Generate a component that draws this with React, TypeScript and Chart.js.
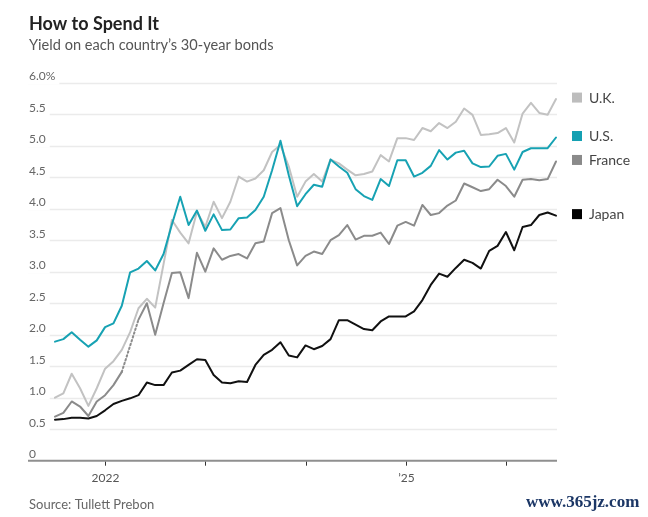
import { useEffect, useRef } from "react";
import { Chart, registerables } from "chart.js";

Chart.register(...registerables);

const months = [
  "Jul 2021", "Aug 2021", "Sep 2021", "Oct 2021", "Nov 2021", "Dec 2021",
  "Jan 2022", "Feb 2022", "Mar 2022", "Apr 2022", "May 2022", "Jun 2022",
  "Jul 2022", "Aug 2022", "Sep 2022", "Oct 2022", "Nov 2022", "Dec 2022",
  "Jan 2023", "Feb 2023", "Mar 2023", "Apr 2023", "May 2023", "Jun 2023",
  "Jul 2023", "Aug 2023", "Sep 2023", "Oct 2023", "Nov 2023", "Dec 2023",
  "Jan 2024", "Feb 2024", "Mar 2024", "Apr 2024", "May 2024", "Jun 2024",
  "Jul 2024", "Aug 2024", "Sep 2024", "Oct 2024", "Nov 2024", "Dec 2024",
  "Jan 2025", "Feb 2025", "Mar 2025", "Apr 2025", "May 2025", "Jun 2025",
  "Jul 2025", "Aug 2025", "Sep 2025", "Oct 2025", "Nov 2025", "Dec 2025",
  "Jan 2026", "Feb 2026", "Mar 2026", "Apr 2026", "May 2026", "Jun 2026",
  "Jul 2026",
];

const ukValues = [
  1.0, 1.07, 1.38, 1.15, 0.87, 1.15, 1.46, 1.58, 1.76, 2.04, 2.42, 2.57,
  2.43, 3.12, 3.82, 3.62, 3.45, 3.95, 3.71, 4.11, 3.85, 4.11, 4.51, 4.43,
  4.48, 4.61, 4.9, 5.01, 4.67, 4.19, 4.43, 4.55, 4.43, 4.78, 4.72, 4.62,
  4.53, 4.55, 4.59, 4.85, 4.75, 5.12, 5.12, 5.09, 5.28, 5.23, 5.36, 5.28,
  5.38, 5.59, 5.49, 5.17, 5.18, 5.2, 5.28, 5.05, 5.51, 5.68, 5.52, 5.49,
  5.74,
];

const usValues = [
  1.89, 1.93, 2.04, 1.92, 1.81, 1.91, 2.12, 2.18, 2.46, 2.99, 3.05, 3.17,
  3.02, 3.28, 3.75, 4.19, 3.74, 3.97, 3.65, 3.91, 3.66, 3.67, 3.85, 3.86,
  3.98, 4.19, 4.61, 5.08, 4.53, 4.04, 4.23, 4.38, 4.35, 4.78, 4.67, 4.57,
  4.31, 4.2, 4.14, 4.47, 4.36, 4.77, 4.77, 4.51, 4.57, 4.68, 4.93, 4.78,
  4.89, 4.92, 4.72, 4.66, 4.67, 4.84, 4.87, 4.62, 4.9, 4.96, 4.96, 4.96,
  5.13,
];

const franceValues: (number | null)[] = [
  0.7, 0.76, 0.94, 0.86, 0.71, 0.94, 1.04, 1.2, 1.41, null, 2.24, 2.5,
  2.0, 2.5, 2.98, 2.99, 2.58, 3.3, 3.0, 3.37, 3.19, 3.25, 3.28, 3.21,
  3.45, 3.48, 3.93, 4.01, 3.5, 3.1, 3.25, 3.32, 3.28, 3.5, 3.58, 3.74,
  3.51, 3.57, 3.57, 3.62, 3.44, 3.73, 3.79, 3.73, 4.06, 3.9, 3.93, 4.05,
  4.13, 4.4, 4.34, 4.28, 4.31, 4.46, 4.36, 4.19, 4.46, 4.47, 4.45, 4.47,
  4.75,
];

const japanValues = [
  0.65, 0.66, 0.68, 0.68, 0.67, 0.71, 0.8, 0.9, 0.95, 0.99, 1.04, 1.24,
  1.2, 1.2, 1.4, 1.43, 1.52, 1.61, 1.6, 1.36, 1.24, 1.23, 1.26, 1.25,
  1.52, 1.68, 1.76, 1.88, 1.67, 1.64, 1.83, 1.77, 1.82, 1.93, 2.23, 2.23,
  2.16, 2.09, 2.07, 2.21, 2.29, 2.29, 2.29, 2.37, 2.55, 2.79, 2.97, 2.92,
  3.06, 3.19, 3.14, 3.05, 3.33, 3.41, 3.63, 3.34, 3.71, 3.74, 3.9, 3.94,
  3.89,
];

const seriesNames = ["U.K.", "U.S.", "France", "Japan"];
const seriesColors = ["#c2c2c2", "#17a2b3", "#8b8b8b", "#111111"];
const legendColors = ["#bdbdbd", "#14a0b2", "#8a8a8a", "#000000"];

const yTickValues = [0, 0.5, 1, 1.5, 2, 2.5, 3, 3.5, 4, 4.5, 5, 5.5, 6];
const yTickLabels = ["0", "0.5", "1.0", "1.5", "2.0", "2.5", "3.0", "3.5", "4.0", "4.5", "5.0", "5.5", "6.0%"];

const xTickMonths = ["Jan 2022", "Jan 2023", "Jan 2024", "Jan 2025", "Jan 2026"];
const xTickLabels = ["2022", "", "", "\u201925", ""];

const titleText = "How to Spend It";
const subtitleText = "Yield on each country\u2019s 30-year bonds";
const sourceText = "Source: Tullett Prebon";
const watermarkText = "www.365jz.com";

const FONT = "Lato, 'Open Sans', sans-serif";

const decorPlugin = {
  id: "decor",
  beforeDatasetsDraw(chart: any) {
    const { ctx, scales } = chart;
    const x = scales.x;
    const y = scales.y;
    const left = 28;
    const right = 557;
    ctx.save();
    // gridlines
    yTickValues.forEach((v) => {
      if (v === 0) return;
      const py = Math.round(y.getPixelForValue(v)) + 0.5;
      ctx.strokeStyle = "#ebebeb";
      ctx.lineWidth = 1.5;
      ctx.beginPath();
      ctx.moveTo(left, py);
      ctx.lineTo(right, py);
      ctx.stroke();
    });
    // y labels with white mask
    ctx.font = `12px ${FONT}`;
    ctx.textBaseline = "alphabetic";
    ctx.textAlign = "left";
    yTickValues.forEach((v, i) => {
      const py = y.getPixelForValue(v);
      const label = yTickLabels[i];
      const w = ctx.measureText(label).width;
      if (v !== 0) {
        ctx.fillStyle = "#ffffff";
        ctx.fillRect(left, py - 13, w + 5, 15);
      }
      ctx.fillStyle = "#666666";
      ctx.fillText(label, 29, py - 2.5);
    });
    // axis line
    const ay = y.getPixelForValue(0);
    ctx.strokeStyle = "#8f8f8f";
    ctx.lineWidth = 2;
    ctx.beginPath();
    ctx.moveTo(left, ay);
    ctx.lineTo(right, ay);
    ctx.stroke();
    // x ticks and labels
    ctx.strokeStyle = "#333333";
    ctx.lineWidth = 1;
    ctx.font = `12px ${FONT}`;
    ctx.textAlign = "center";
    ctx.textBaseline = "middle";
    xTickMonths.forEach((m, i) => {
      const idx = months.indexOf(m);
      const px = Math.round(x.getPixelForValue(idx)) + 0.5;
      ctx.beginPath();
      ctx.moveTo(px, ay + 1);
      ctx.lineTo(px, ay + 5);
      ctx.stroke();
      if (xTickLabels[i]) {
        ctx.fillStyle = "#555555";
        ctx.fillText(xTickLabels[i], px, ay + 17.5);
      }
    });
    ctx.restore();
  },
  afterDraw(chart: any) {
    const { ctx, scales } = chart;
    const y = scales.y;
    ctx.save();
    // legend labels at series end values
    const ends = [ukValues, usValues, franceValues, japanValues].map((arr) => arr[arr.length - 1] as number);
    ctx.font = `14px ${FONT}`;
    ctx.textAlign = "left";
    ctx.textBaseline = "middle";
    ends.forEach((v, i) => {
      const py = y.getPixelForValue(v) - 1.5;
      ctx.fillStyle = legendColors[i];
      ctx.fillRect(572, py - 5, 10, 10);
      ctx.fillStyle = "#444444";
      ctx.fillText(seriesNames[i], 589, py + 0.5);
    });
    // title
    ctx.textBaseline = "alphabetic";
    ctx.fillStyle = "#222222";
    ctx.font = `bold 18px ${FONT}`;
    ctx.fillText(titleText, 29, 30);
    ctx.fillStyle = "#555555";
    ctx.font = `14.6px ${FONT}`;
    ctx.fillText(subtitleText, 29, 50);
    ctx.fillStyle = "#666666";
    ctx.font = `13px ${FONT}`;
    ctx.fillText(sourceText, 29, 509);
    ctx.fillStyle = "#1c3766";
    ctx.font = "bold 17px 'Liberation Serif', serif";
    ctx.fillText(watermarkText, 526, 507);
    ctx.restore();
  },
};

export default function App() {
  const canvasRef = useRef<HTMLCanvasElement | null>(null);

  useEffect(() => {
    document.body.style.margin = "0";
    const canvas = canvasRef.current;
    if (!canvas) return;
    const skipped = (ctx: any, value: number[]) =>
      ctx.p0.skip || ctx.p1.skip ? value : undefined;
    const chart = new Chart(canvas, {
      type: "line",
      data: {
        labels: months,
        datasets: [
          {
            label: seriesNames[1],
            data: usValues,
            borderColor: seriesColors[1],
            order: 0,
          },
          {
            label: seriesNames[3],
            data: japanValues,
            borderColor: seriesColors[3],
            order: 1,
          },
          {
            label: seriesNames[2],
            data: franceValues,
            borderColor: seriesColors[2],
            order: 2,
            spanGaps: true,
            segment: {
              borderDash: (ctx: any) => skipped(ctx, [1.5, 2.5]),
            },
          },
          {
            label: seriesNames[0],
            data: ukValues,
            borderColor: seriesColors[0],
            order: 3,
          },
        ] as any,
      },
      options: {
        animation: false,
        responsive: false,
        maintainAspectRatio: false,
        layout: { padding: { left: 55, right: 92, top: 82.7, bottom: 56.3 } },
        elements: {
          point: { radius: 0, hoverRadius: 0 },
          line: { borderWidth: 2, tension: 0, borderJoinStyle: "round", borderCapStyle: "round" },
        },
        datasets: { line: { clip: 6 } } as any,
        scales: {
          x: { type: "category", display: false, offset: false },
          y: { type: "linear", display: false, min: 0, max: 6 },
        },
        plugins: {
          legend: { display: false },
          tooltip: { enabled: false },
          title: { display: false },
        },
      },
      plugins: [decorPlugin],
    });
    return () => chart.destroy();
  }, []);

  return (
    <div style={{ position: "absolute", left: 0, top: 0, width: 648, height: 517, background: "#fff" }}>
      <canvas ref={canvasRef} width={648} height={517} style={{ width: 648, height: 517, display: "block" }} />
    </div>
  );
}
